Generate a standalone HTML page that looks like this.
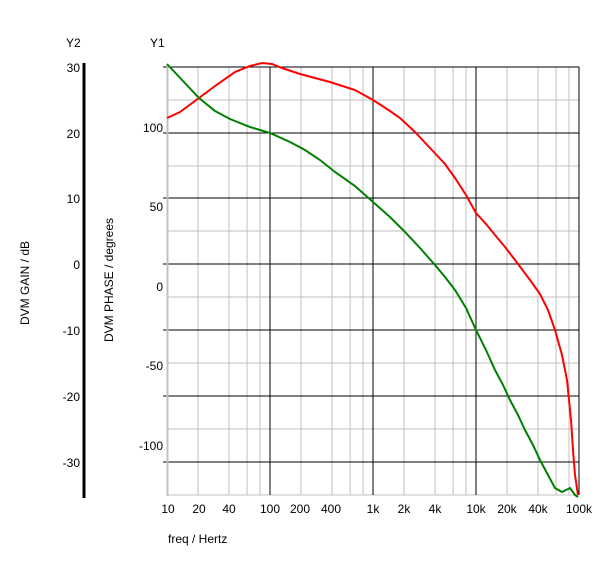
<!DOCTYPE html>
<html><head><style>
body{margin:0;background:#fff;}
svg text{font-family:"Liberation Sans",sans-serif;font-size:12px;fill:#000;}
</style></head><body>
<svg width="600" height="563" viewBox="0 0 600 563" xmlns="http://www.w3.org/2000/svg">
<defs>
<g id="dec" stroke="#c0c0c0" stroke-width="1">
<line x1="31" y1="67" x2="31" y2="495"/>
<line x1="62" y1="67" x2="62" y2="495"/>
<line x1="80.1" y1="67" x2="80.1" y2="495"/>
<line x1="93" y1="67" x2="93" y2="495"/>
</g>
</defs>
<g stroke="#c0c0c0" stroke-width="1">
<line x1="167" y1="100" x2="579" y2="100"/><line x1="167" y1="166" x2="579" y2="166"/>
<line x1="167" y1="231" x2="579" y2="231"/><line x1="167" y1="297" x2="579" y2="297"/>
<line x1="167" y1="363" x2="579" y2="363"/><line x1="167" y1="429" x2="579" y2="429"/>
<line x1="167" y1="495" x2="579" y2="495"/>
</g>
<use href="#dec" x="167"/><use href="#dec" x="270"/><use href="#dec" x="373"/><use href="#dec" x="476"/>
<g stroke="#000" stroke-width="1">
<line x1="163" y1="67" x2="579" y2="67"/><line x1="163" y1="133" x2="579" y2="133"/>
<line x1="163" y1="198" x2="579" y2="198"/><line x1="163" y1="264" x2="579" y2="264"/>
<line x1="163" y1="330" x2="579" y2="330"/><line x1="163" y1="396" x2="579" y2="396"/>
<line x1="163" y1="462" x2="579" y2="462"/>
<line x1="270" y1="67" x2="270" y2="495"/><line x1="373" y1="67" x2="373" y2="495"/>
<line x1="476" y1="67" x2="476" y2="495"/><line x1="579" y1="67" x2="579" y2="495"/>
</g>
<line x1="167.5" y1="64" x2="167.5" y2="496" stroke="#c0c0c0" stroke-width="2"/>
<line x1="84" y1="63" x2="84" y2="498" stroke="#000" stroke-width="3"/>
<polyline fill="none" stroke="#ff0000" stroke-width="2" points="167,118 180,112 199,98 215,86 235,72 250,66 262,63 272,64 282,68 300,74 330,82 355,90 373,100 390,111 400,118 415,132 430,148 445,164 455,178 466,195 476,213 486,224 495,235 505,247 515,260 530,280 540,294 548,310 555,330 562,355 567,380 571,420 573,450 575,475 578,495"/>
<polyline fill="none" stroke="#008000" stroke-width="2" points="167,64 183,81 199,98 215,111 230,119 250,127 270,133 290,142 305,150 320,160 335,172 355,186 373,202 390,217 405,232 420,248 435,265 445,277 455,290 466,308 476,330 486,350 495,370 503,385 510,400 518,415 525,430 533,445 540,460 548,475 555,488 562,492 570,488 575,495 578,497"/>
<g text-anchor="end">
<text x="80" y="72">30</text><text x="80" y="138">20</text><text x="80" y="203">10</text>
<text x="80" y="269">0</text><text x="80" y="335">-10</text><text x="80" y="401">-20</text><text x="80" y="467">-30</text>
<text x="163" y="132">100</text><text x="163" y="211">50</text><text x="163" y="291">0</text>
<text x="163" y="370">-50</text><text x="163" y="450">-100</text>
</g>
<text x="66" y="47">Y2</text><text x="150" y="47">Y1</text>
<g text-anchor="middle">
<text x="168" y="513">10</text><text x="199" y="513">20</text><text x="229" y="513">40</text>
<text x="270" y="513">100</text><text x="300" y="513">200</text><text x="331" y="513">400</text>
<text x="373" y="513">1k</text><text x="404" y="513">2k</text><text x="435" y="513">4k</text>
<text x="476" y="513">10k</text><text x="507" y="513">20k</text><text x="538" y="513">40k</text>
<text x="579" y="513">100k</text>
</g>
<text x="168" y="543">freq / Hertz</text>
<text transform="translate(29,283) rotate(-90)" text-anchor="middle">DVM GAIN / dB</text>
<text transform="translate(113,280) rotate(-90)" text-anchor="middle">DVM PHASE / degrees</text>
</svg>
</body></html>
